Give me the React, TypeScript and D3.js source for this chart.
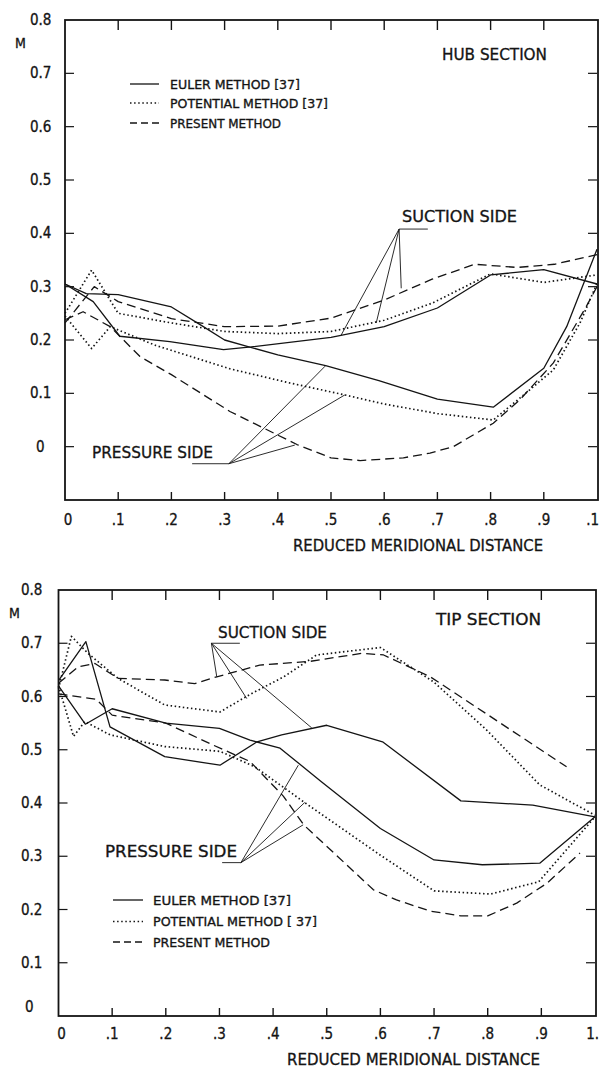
import React from "react";
import * as d3 from "d3";

type Pt = [number, number];

// Hub section: [reduced meridional distance, Mach number]
const hubEulerSuction: Pt[] = [
  [0, 0.305], [0.053, 0.272], [0.103, 0.207], [0.197, 0.197], [0.298, 0.182], [0.35, 0.187],
  [0.5, 0.205], [0.6, 0.225], [0.7, 0.26], [0.8, 0.322], [0.9, 0.332], [1.0, 0.305],
];
const hubEulerPressure: Pt[] = [
  [0, 0.305], [0.04, 0.287], [0.1, 0.285], [0.2, 0.262], [0.26, 0.225], [0.3, 0.2], [0.4, 0.172],
  [0.49, 0.152], [0.59, 0.124], [0.7, 0.089], [0.805, 0.074], [0.9, 0.147], [0.943, 0.225], [1.0, 0.37],
];
const hubPotentialSuction: Pt[] = [
  [0, 0.25], [0.05, 0.331], [0.1, 0.25], [0.2, 0.232], [0.3, 0.216], [0.4, 0.212], [0.5, 0.216],
  [0.6, 0.237], [0.69, 0.269], [0.8, 0.324], [0.9, 0.308], [1.0, 0.322],
];
const hubPotentialPressure: Pt[] = [
  [0, 0.245], [0.05, 0.184], [0.085, 0.225], [0.17, 0.19], [0.31, 0.146], [0.42, 0.12], [0.526, 0.097],
  [0.6, 0.08], [0.7, 0.062], [0.805, 0.05], [0.855, 0.091], [0.918, 0.144], [0.968, 0.232], [1.0, 0.306],
];
const hubPresentSuction: Pt[] = [
  [0, 0.232], [0.055, 0.3], [0.1, 0.272], [0.2, 0.24], [0.3, 0.225], [0.4, 0.226], [0.5, 0.241],
  [0.6, 0.275], [0.69, 0.314], [0.77, 0.342], [0.85, 0.336], [0.92, 0.342], [1.0, 0.36],
];
const hubPresentPressure: Pt[] = [
  [0, 0.238], [0.034, 0.253], [0.085, 0.225], [0.141, 0.169], [0.2, 0.135], [0.31, 0.066],
  [0.436, 0.004], [0.5, -0.021], [0.555, -0.026], [0.636, -0.021], [0.686, -0.012], [0.73, 0.0],
  [0.805, 0.044], [0.855, 0.088], [0.918, 0.157], [0.98, 0.263], [1.0, 0.3],
];

// Tip section
const tipEulerSuction: Pt[] = [
  [0, 0.63], [0.051, 0.703], [0.096, 0.543], [0.198, 0.487], [0.301, 0.471], [0.37, 0.515],
  [0.416, 0.528], [0.5, 0.546], [0.604, 0.515], [0.75, 0.404], [0.884, 0.396], [1.0, 0.374],
];
const tipEulerPressure: Pt[] = [
  [0, 0.62], [0.05, 0.548], [0.1, 0.577], [0.2, 0.55], [0.3, 0.54], [0.357, 0.518], [0.413, 0.503],
  [0.49, 0.44], [0.6, 0.352], [0.7, 0.293], [0.79, 0.284], [0.897, 0.287], [1.0, 0.374],
];
const tipPotentialSuction: Pt[] = [
  [0, 0.615], [0.024, 0.713], [0.055, 0.681], [0.111, 0.634], [0.198, 0.584], [0.301, 0.571],
  [0.357, 0.604], [0.42, 0.637], [0.481, 0.678], [0.6, 0.692], [0.7, 0.627], [0.798, 0.537],
  [0.897, 0.434], [1.0, 0.377],
];
const tipPotentialPressure: Pt[] = [
  [0, 0.62], [0.028, 0.525], [0.049, 0.553], [0.096, 0.528], [0.198, 0.506], [0.301, 0.497],
  [0.366, 0.468], [0.46, 0.4], [0.6, 0.302], [0.7, 0.235], [0.805, 0.229], [0.895, 0.252], [1.0, 0.374],
];
const tipPresentSuction: Pt[] = [
  [0, 0.625], [0.037, 0.656], [0.068, 0.662], [0.111, 0.634], [0.198, 0.631], [0.254, 0.624],
  [0.295, 0.637], [0.375, 0.659], [0.469, 0.666], [0.565, 0.681], [0.606, 0.678], [0.693, 0.637],
  [0.947, 0.468],
];
const tipPresentPressure: Pt[] = [
  [0, 0.605], [0.07, 0.595], [0.1, 0.565], [0.2, 0.55], [0.29, 0.508], [0.357, 0.478], [0.419, 0.413],
  [0.457, 0.359], [0.587, 0.237], [0.63, 0.218], [0.693, 0.197], [0.75, 0.188], [0.8, 0.188],
  [0.854, 0.212], [0.91, 0.249], [0.972, 0.306],
];

const xTicks = [0, 0.1, 0.2, 0.3, 0.4, 0.5, 0.6, 0.7, 0.8, 0.9, 1.0];
const hubXLabels = ["0", ".1", ".2", ".3", ".4", ".5", ".6", ".7", ".8", ".9", ".1"];
const tipXLabels = ["0", ".1", ".2", ".3", ".4", ".5", ".6", ".7", ".8", ".9", "1."];
const yTicks = [0.8, 0.7, 0.6, 0.5, 0.4, 0.3, 0.2, 0.1, 0];
const yLabels = ["0.8", "0.7", "0.6", "0.5", "0.4", "0.3", "0.2", "0.1", "0"];
const methods = ["euler", "potential", "present"];
const hubLegend = ["EULER METHOD [37]", "POTENTIAL METHOD [37]", "PRESENT METHOD"];
const tipLegend = ["EULER METHOD [37]", "POTENTIAL METHOD [ 37]", "PRESENT METHOD"];

const INK = "#141414";
const FONT = "'DejaVu Sans Condensed', 'Liberation Sans Narrow', 'DejaVu Sans', sans-serif";
const dashFor = (m: string) => (m === "potential" ? "1.5 2.6" : m === "present" ? "9 5" : undefined);
const widthFor = (m: string) => (m === "potential" ? 1.7 : 1.3);

const Label = ({ x, y, w, size, children, anchor }: any) => (
  <text
    x={x}
    y={y}
    fontSize={size}
    fontFamily={FONT}
    fill={INK}
    stroke={INK}
    strokeWidth={0.3}
    textAnchor={anchor || "start"}
    textLength={w}
    lengthAdjust={w ? "spacingAndGlyphs" : undefined}
  >
    {children}
  </text>
);

const Panel = (p: any) => {
  const x = d3.scaleLinear().domain([0, 1]).range(p.xRange);
  const y = d3.scaleLinear().domain(p.yDomain).range(p.yRange);
  const line = d3.line<Pt>().x((d) => x(d[0])).y((d) => y(d[1]));
  const [x0, x1] = p.xRange;
  const [yb, yt] = p.yRange;
  const inner = yTicks.filter((t) => t > p.yDomain[0] && t < p.yDomain[1]);

  const leader = (l: any, key: string) => (
    <g key={key} stroke={INK} strokeWidth={0.9} fill="none">
      <line x1={x(l.tail[0])} y1={y(l.apex[1])} x2={x(l.apex[0])} y2={y(l.apex[1])} />
      {l.ends.map((e: Pt, i: number) => (
        <line key={i} x1={x(l.apex[0])} y1={y(l.apex[1])} x2={x(e[0])} y2={y(e[1])} />
      ))}
    </g>
  );

  return (
    <g>
      {/* data curves */}
      {p.series.map((s: any, i: number) => (
        <path
          key={i}
          d={line(s.data) || ""}
          fill="none"
          stroke={INK}
          strokeWidth={widthFor(s.method)}
          strokeDasharray={dashFor(s.method)}
          strokeLinejoin="round"
        />
      ))}

      {/* frame */}
      <rect x={x0} y={yt} width={x1 - x0 + 1} height={yb - yt} fill="none" stroke={INK} strokeWidth={1.8} />

      {/* ticks */}
      {xTicks.slice(1, -1).map((t) => (
        <g key={"xt" + t} stroke={INK} strokeWidth={1.4}>
          <line x1={x(t)} x2={x(t)} y1={yt} y2={yt + 10} />
          <line x1={x(t)} x2={x(t)} y1={yb} y2={yb - 8} />
        </g>
      ))}
      {inner.map((t) => (
        <g key={"yt" + t} stroke={INK} strokeWidth={1.2}>
          <line x1={x0} x2={x0 + 9} y1={y(t)} y2={y(t)} />
          <line x1={x1} x2={x1 - 9} y1={y(t)} y2={y(t)} />
        </g>
      ))}

      {/* tick labels */}
      {yTicks.map((t, i) =>
        t === 0 ? (
          <Label key={"yl" + i} x={p.zeroLabel[0]} y={p.zeroLabel[1]} size={15}>
            {yLabels[i]}
          </Label>
        ) : (
          <Label key={"yl" + i} x={p.yLabelX} y={y(t) + 5} size={15}>
            {yLabels[i]}
          </Label>
        )
      )}
      <Label x={p.mPos[0]} y={p.mPos[1]} size={14}>M</Label>
      {xTicks.map((t, i) => (
        <Label
          key={"xl" + i}
          x={i === 0 ? x(t) + 3 : i === xTicks.length - 1 ? 599 : x(t)}
          y={p.xLabelY}
          size={15}
          anchor={i === xTicks.length - 1 ? "end" : "middle"}
        >
          {p.xLabels[i]}
        </Label>
      ))}
      <Label x={p.title[0]} y={p.title[1]} w={p.title[2]} size={16}>REDUCED MERIDIONAL DISTANCE</Label>

      {/* annotations */}
      {p.notes.map((n: any, i: number) => (
        <Label key={"n" + i} x={n.at[0]} y={n.at[1]} w={n.w} size={16}>
          {n.text}
        </Label>
      ))}
      {p.leaders.map((l: any, i: number) => leader(l, "ld" + i))}

      {/* legend */}
      {methods.map((m, i) => (
        <g key={m}>
          <line
            x1={p.legend.x0}
            x2={p.legend.x1}
            y1={p.legend.rows[i]}
            y2={p.legend.rows[i]}
            stroke={INK}
            strokeWidth={widthFor(m)}
            strokeDasharray={m === "present" ? "7 4" : dashFor(m)}
          />
          <Label x={p.legend.tx} y={p.legend.rows[i] + 4.5} w={p.legend.widths[i]} size={12}>
            {p.legend.labels[i]}
          </Label>
        </g>
      ))}
    </g>
  );
};

const App = () => {
  const hub = {
    xRange: [65, 597],
    yDomain: [-0.1, 0.8],
    yRange: [500, 20],
    yLabelX: 30,
    zeroLabel: [36, 452],
    mPos: [15, 48],
    xLabelY: 525,
    xLabels: hubXLabels,
    title: [293, 551, 250],
    series: [
      { method: "euler", data: hubEulerSuction },
      { method: "euler", data: hubEulerPressure },
      { method: "potential", data: hubPotentialSuction },
      { method: "potential", data: hubPotentialPressure },
      { method: "present", data: hubPresentSuction },
      { method: "present", data: hubPresentPressure },
    ],
    notes: [
      { text: "HUB SECTION", at: [442, 60], w: 105 },
      { text: "SUCTION SIDE", at: [402, 222], w: 115 },
      { text: "PRESSURE SIDE", at: [92, 458], w: 121 },
    ],
    leaders: [
      { apex: [0.628, 0.408], tail: [0.682], ends: [[0.519, 0.209], [0.585, 0.232], [0.632, 0.297]] },
      { apex: [0.308, -0.032], tail: [0.239], ends: [[0.489, 0.151], [0.526, 0.097], [0.432, 0.003]] },
    ],
    legend: { x0: 130, x1: 159, tx: 170, rows: [84, 103, 123], widths: [130, 158, 111], labels: hubLegend },
  };

  const tip = {
    xRange: [58.5, 595],
    yDomain: [0, 0.8],
    yRange: [1016, 590],
    yLabelX: 21,
    zeroLabel: [25, 1012],
    mPos: [9, 618],
    xLabelY: 1039,
    xLabels: tipXLabels,
    title: [287, 1065, 253],
    series: [
      { method: "euler", data: tipEulerSuction },
      { method: "euler", data: tipEulerPressure },
      { method: "potential", data: tipPotentialSuction },
      { method: "potential", data: tipPotentialPressure },
      { method: "present", data: tipPresentSuction },
      { method: "present", data: tipPresentPressure },
    ],
    notes: [
      { text: "TIP SECTION", at: [436, 625], w: 105 },
      { text: "SUCTION SIDE", at: [218, 638], w: 109 },
      { text: "PRESSURE SIDE", at: [105, 857], w: 132 },
    ],
    leaders: [
      { apex: [0.285, 0.7], tail: [0.338], ends: [[0.295, 0.637], [0.351, 0.596], [0.472, 0.541]] },
      { apex: [0.34, 0.288], tail: [0.305], ends: [[0.447, 0.471], [0.459, 0.401], [0.456, 0.359]] },
    ],
    legend: { x0: 113, x1: 143, tx: 153, rows: [900, 921.5, 942], widths: [138, 164, 117], labels: tipLegend },
  };

  return (
    <div style={{ position: "absolute", left: 0, top: 0 }}>
      <svg width={600} height={1070} style={{ display: "block", background: "#fff" }}>
        <rect width={600} height={1070} fill="#fff" />
        <Panel {...hub} />
        <Panel {...tip} />
      </svg>
    </div>
  );
};

export default App;
